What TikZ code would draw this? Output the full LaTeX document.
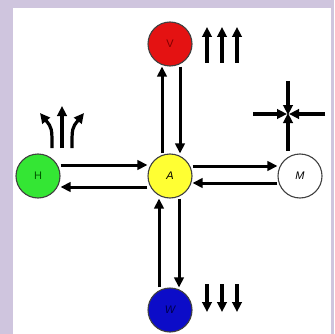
\documentclass[tikz,border=0pt]{standalone}
\usepackage{fontspec}
\setmainfont{Liberation Sans}
\usetikzlibrary{arrows.meta}
\definecolor{lavender}{RGB}{207,197,222}
\definecolor{vred}{RGB}{228,18,18}
\definecolor{hgreen}{RGB}{52,230,52}
\definecolor{ayellow}{RGB}{255,255,51}
\definecolor{wblue}{RGB}{12,12,200}
\begin{document}
\begin{tikzpicture}[x=1pt,y=-1pt]
  \tikzstyle{vertex}=[circle,draw=black!75,line width=1.1pt,minimum size=44pt,inner sep=0pt,font=\fontsize{11}{13}\selectfont]
  \tikzstyle{edge} = [draw,line width=3pt,-{Triangle[length=10pt,width=9.5pt]}]
  \tikzstyle{sign} = [line width=3.2pt,-{Triangle[length=10pt,width=9.5pt]}]

    % frame
    \fill[lavender] (0,0) rectangle (334,334);
    \fill[white] (13,8) rectangle (331,334);
    \useasboundingbox (0,0) rectangle (334,334);

    \node[vertex,fill=vred,text=red!50!black] (V) at (170,44) {V};
    \node[vertex,fill=hgreen,text=green!35!black] (H) at (38,176) {H};
    \node[vertex,fill=ayellow] (A) at (170,176) {\itshape A};
    \node[vertex,fill=white] (M) at (300,176) {\itshape M};
    \node[vertex,fill=wblue,text=blue!30!black] (W) at (170,310) {\itshape W};

    \path[edge] ([xshift=-8]A.north) -- ([xshift=-8]V.south);
    \path[edge] ([xshift=10]V.south) -- ([xshift=10]A.north);
    \path[edge] ([yshift=11]H.east) -- ([yshift=11]A.west);
    \path[edge] ([yshift=-11]A.west) -- ([yshift=-11]H.east);
    \path[edge] ([yshift=10]A.east) -- ([yshift=10]M.west);
    \path[edge] ([yshift=-7]M.west) -- ([yshift=-7]A.east);
    \path[edge] ([xshift=-11]W.north) -- ([xshift=-11]A.south);
    \path[edge] ([xshift=9]A.south) -- ([xshift=9]W.north);

    % rising / falling
    \foreach \x in {207,222,237} {
      \draw[sign] (\x,63) -- (\x,27);
      \draw[sign] (\x,284) -- (\x,312);
    }

    % spreading
    \draw[sign] (62,148) -- (62,106);
    \draw[sign] (52,148) .. controls (52,128) .. (40,113);
    \draw[sign] (72,148) .. controls (72,128) .. (84,113);

    % squeezing
    \coordinate (sq) at (288,114);
    \draw[sign] (288,81) -- ([yshift=-1]sq);
    \draw[sign] (288,151) -- ([yshift=1]sq);
    \draw[sign] (253,114) -- ([xshift=-1]sq);
    \draw[sign] (325,114) -- ([xshift=1]sq);
\end{tikzpicture}
\end{document}
